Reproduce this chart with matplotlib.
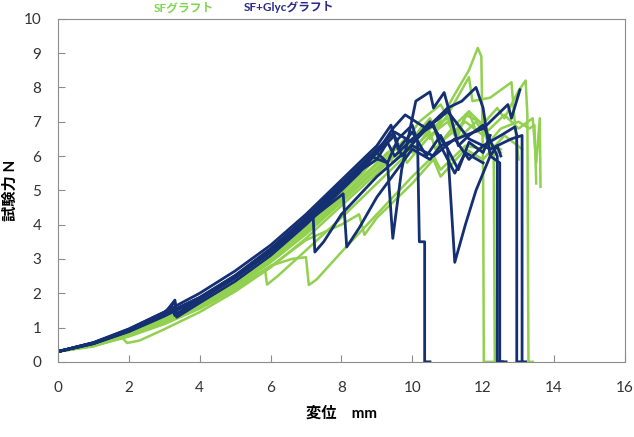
import matplotlib
matplotlib.use('Agg')
import matplotlib.pyplot as plt

# SFグラフト (green) curves: displacement mm / force N
sf1_x = [0, 1, 2, 3, 4, 5, 6, 7, 8, 8.8, 9.3, 9.45, 10.0, 10.5, 10.65, 11.2, 11.6, 11.85, 11.95, 12.0, 12.02, 12.3]
sf1_y = [0.3, 0.5, 0.82, 1.2, 1.68, 2.28, 3.0, 3.85, 4.8, 5.6, 6.1, 5.8, 6.5, 7.1, 6.8, 7.8, 8.5, 9.15, 8.9, 5.5, 0, 0]
sf2_x = [0, 1, 1.8, 1.95, 2.3, 3, 4, 5, 6, 7, 8, 9, 9.7, 9.85, 10.5, 11.0, 11.2, 11.6, 12.1, 12.3, 12.33, 12.5]
sf2_y = [0.3, 0.45, 0.72, 0.55, 0.62, 0.95, 1.45, 2.05, 2.75, 3.6, 4.55, 5.5, 6.2, 5.8, 6.6, 7.0, 6.6, 7.3, 6.8, 6.0, 0, 0]
sf3_x = [0, 1, 2, 3, 4, 5, 5.85, 5.9, 6.2, 7, 8, 9, 10, 10.5, 10.65, 11.2, 11.6, 11.8, 12.4, 12.6, 13.0, 13.2, 13.25, 13.28, 13.4]
sf3_y = [0.3, 0.47, 0.76, 1.12, 1.58, 2.15, 2.65, 2.25, 2.5, 3.25, 4.2, 5.2, 6.2, 6.7, 6.2, 6.9, 7.3, 6.7, 7.4, 7.1, 7.9, 8.2, 7.2, 0, 0]
sf4_x = [0, 1, 2, 3, 4, 5, 6, 7, 8, 9, 9.5, 9.7, 10.3, 10.5, 11, 11.6, 11.7, 12.2, 12.8, 12.9, 13.0]
sf4_y = [0.3, 0.5, 0.8, 1.2, 1.67, 2.27, 2.98, 3.82, 4.78, 5.75, 6.3, 6.0, 6.9, 6.5, 7.2, 8.3, 7.6, 7.7, 8.15, 6.9, 5.9]
sf5_x = [0, 1, 2, 3, 4, 5, 6, 7, 8, 9, 10, 10.6, 10.8, 11.5, 12.0, 12.6, 13.0, 13.4, 13.5, 13.6, 13.62]
sf5_y = [0.3, 0.48, 0.78, 1.16, 1.62, 2.2, 2.9, 3.72, 4.65, 5.6, 6.4, 6.9, 6.4, 7.0, 6.6, 7.2, 6.8, 7.1, 5.8, 7.1, 5.1]
sf6_x = [0, 1, 2, 3, 4, 5, 6, 6.6, 7.0, 7.08, 7.3, 8, 9, 10, 10.6, 10.8, 11.5, 12, 12.5, 13.0, 13.3, 13.45, 13.5]
sf6_y = [0.3, 0.47, 0.75, 1.12, 1.58, 2.15, 2.8, 3.0, 3.05, 2.24, 2.4, 3.2, 4.3, 5.4, 6.0, 5.6, 6.3, 6.2, 6.8, 7.0, 6.8, 6.9, 5.2]
sf7_x = [0, 1, 2, 3, 4, 5, 6, 7, 8, 8.6, 9, 9.5, 9.65, 10.2, 10.8, 11.3, 11.5, 11.9, 12.3, 12.5]
sf7_y = [0.3, 0.52, 0.85, 1.25, 1.72, 2.32, 3.05, 3.9, 4.9, 5.5, 6.0, 6.6, 6.2, 7.0, 7.5, 6.6, 7.2, 7.0, 6.0, 6.2]
sf8_x = [0, 1, 2, 3, 4, 5, 6, 7, 8, 8.5, 8.65, 9, 10, 10.6, 10.8, 11.5, 12, 12.6, 13.1]
sf8_y = [0.3, 0.46, 0.74, 1.1, 1.55, 2.1, 2.78, 3.55, 4.0, 4.3, 3.7, 4.2, 5.2, 5.9, 5.4, 6.2, 5.9, 6.6, 6.2]
sf9_x = [0, 1, 2, 3, 4, 5, 6, 7, 8, 9, 9.8, 10, 10.5, 11, 11.3, 11.8, 12.2, 12.5]
sf9_y = [0.3, 0.49, 0.8, 1.18, 1.65, 2.22, 2.92, 3.75, 4.7, 5.65, 6.5, 6.1, 6.8, 7.1, 6.5, 7.0, 6.4, 6.1]

# SF+Glycグラフト (navy) curves
gl1_x = [0, 1, 2, 3, 3.3, 3.35, 4, 5, 6, 7, 8, 8.5, 9, 9.3, 9.6, 10.0, 10.15, 10.2, 10.35, 10.35, 10.5]
gl1_y = [0.3, 0.55, 0.92, 1.4, 1.8, 1.3, 1.72, 2.35, 3.1, 4.0, 5.0, 5.5, 6.1, 5.8, 6.5, 6.9, 6.4, 3.5, 3.5, 0, 0]
gl2_x = [0, 1, 2, 3, 3.2, 3.3, 4, 5, 6, 7, 8, 8.8, 9.3, 9.45, 9.7, 10.1, 10.5, 10.6, 10.9, 11.1, 11.3, 11.6, 12.0, 12.4, 12.4, 12.55]
gl2_y = [0.3, 0.56, 0.95, 1.45, 1.6, 1.35, 1.8, 2.45, 3.2, 4.1, 5.1, 6.0, 5.8, 3.6, 5.6, 7.6, 7.87, 7.4, 7.85, 7.1, 6.3, 6.6, 6.9, 6.0, 0, 0]
gl3_x = [0, 1, 2, 3, 4, 5, 6, 7, 8, 9, 9.5, 9.7, 10.4, 11, 11.4, 11.8, 12.0, 12.2, 12.47, 12.47, 12.65]
gl3_y = [0.3, 0.54, 0.9, 1.35, 1.85, 2.5, 3.25, 4.15, 5.15, 6.1, 6.6, 6.0, 6.8, 7.4, 7.6, 8.0, 7.4, 6.0, 5.8, 0, 0]
gl4_x = [0, 1, 2, 3, 4, 5, 6, 7, 8, 9, 9.3, 9.5, 10, 10.6, 10.8, 11.5, 12, 12.4, 12.7, 12.8, 13.04]
gl4_y = [0.3, 0.55, 0.92, 1.38, 1.88, 2.52, 3.3, 4.2, 5.2, 5.9, 6.4, 6.0, 6.5, 6.9, 6.3, 6.6, 6.8, 7.2, 7.5, 7.1, 7.93]
gl5_x = [0, 1, 2, 3, 4, 5, 6, 7, 7.2, 7.25, 7.5, 8, 9, 10, 10.6, 11.2, 11.6, 12.0, 12.5, 12.9, 12.95, 12.95, 13.1]
gl5_y = [0.3, 0.53, 0.9, 1.36, 1.86, 2.5, 3.25, 4.12, 4.3, 3.2, 3.5, 4.3, 5.4, 6.3, 6.0, 6.5, 5.9, 6.3, 6.6, 6.85, 6.6, 0, 0]
gl6_x = [0, 1, 2, 3, 4, 5, 6, 7, 8, 8.5, 9, 9.5, 10, 10.5, 11.0, 11.2, 11.5, 11.8, 12.2, 12.4, 12.5]
gl6_y = [0.3, 0.54, 0.9, 1.37, 1.87, 2.5, 3.28, 4.2, 5.2, 5.7, 6.2, 6.7, 6.4, 7.0, 6.2, 2.9, 4.0, 5.0, 6.0, 6.3, 6.0]
gl7_x = [0, 1, 2, 3, 4, 5, 6, 7, 8, 9, 9.45, 9.8, 10.4, 11, 11.6, 12.2, 12.8, 13.1, 13.1, 13.2]
gl7_y = [0.3, 0.53, 0.88, 1.33, 1.83, 2.46, 3.2, 4.1, 5.05, 6.1, 6.8, 7.2, 6.8, 7.3, 6.5, 6.2, 6.5, 6.6, 0, 0]
gl8_x = [0, 1, 2, 3, 3.3, 3.35, 4, 5, 6, 7, 8.05, 8.15, 8.5, 9, 9.5, 10, 10.5, 10.8, 11.2, 11.5, 12.0]
gl8_y = [0.3, 0.55, 0.93, 1.4, 1.75, 1.4, 1.82, 2.45, 3.2, 4.05, 4.9, 3.35, 3.9, 4.8, 5.5, 6.2, 5.9, 6.3, 5.5, 6.1, 5.8]
gl9_x = [0, 1, 2, 3, 4, 5, 6, 7, 8, 9, 9.4, 9.6, 10, 10.4, 10.8, 11.3, 11.6, 12.0, 12.2]
gl9_y = [0.3, 0.56, 0.96, 1.45, 2.0, 2.65, 3.4, 4.3, 5.3, 6.3, 6.9, 6.2, 6.7, 6.0, 6.6, 5.6, 6.4, 6.1, 6.6]

sf_curves = [(sf1_x, sf1_y), (sf2_x, sf2_y), (sf3_x, sf3_y), (sf4_x, sf4_y), (sf5_x, sf5_y),
             (sf6_x, sf6_y), (sf7_x, sf7_y), (sf8_x, sf8_y), (sf9_x, sf9_y)]
gl_curves = [(gl1_x, gl1_y), (gl2_x, gl2_y), (gl3_x, gl3_y), (gl4_x, gl4_y), (gl5_x, gl5_y),
             (gl6_x, gl6_y), (gl7_x, gl7_y), (gl8_x, gl8_y), (gl9_x, gl9_y)]

green = '#92D050'
navy = '#142F72'

plt.rcParams['font.family'] = ['Lato', 'Noto Sans CJK JP', 'DejaVu Sans']

fig = plt.figure(figsize=(6.34, 4.37), dpi=100)
ax = fig.add_axes([0.0915, 0.172, 0.894, 0.785])

for x, y in sf_curves:
    ax.plot(x, y, color=green, lw=1.8)
for x, y in gl_curves:
    ax.plot(x, y, color=navy, lw=2.0)

ax.set_xlim(0, 16)
ax.set_ylim(0, 10)
ax.set_xticks(range(0, 17, 2))
ax.set_yticks(range(0, 11))
for s in ax.spines.values():
    s.set_color('#8c8c8c')
ax.tick_params(direction='in', length=5, color='#8c8c8c', labelsize=11, labelcolor='#333333')
ax.tick_params(axis='x', pad=14)
ax.tick_params(axis='y', pad=12)

ax.set_xlabel('変位　mm', fontsize=11, fontweight='bold', labelpad=8)
ax.set_ylabel('試験力 N', fontsize=11, fontweight='bold', labelpad=4)

fig.text(0.29, 0.983, 'SFグラフト', color='#7FD650', fontsize=8.5, fontweight='bold', ha='center', va='center')
fig.text(0.455, 0.983, 'SF+Glycグラフト', color='#2B2A8A', fontsize=8.5, fontweight='bold', ha='center', va='center')

fig.savefig('out.png', dpi=100)
